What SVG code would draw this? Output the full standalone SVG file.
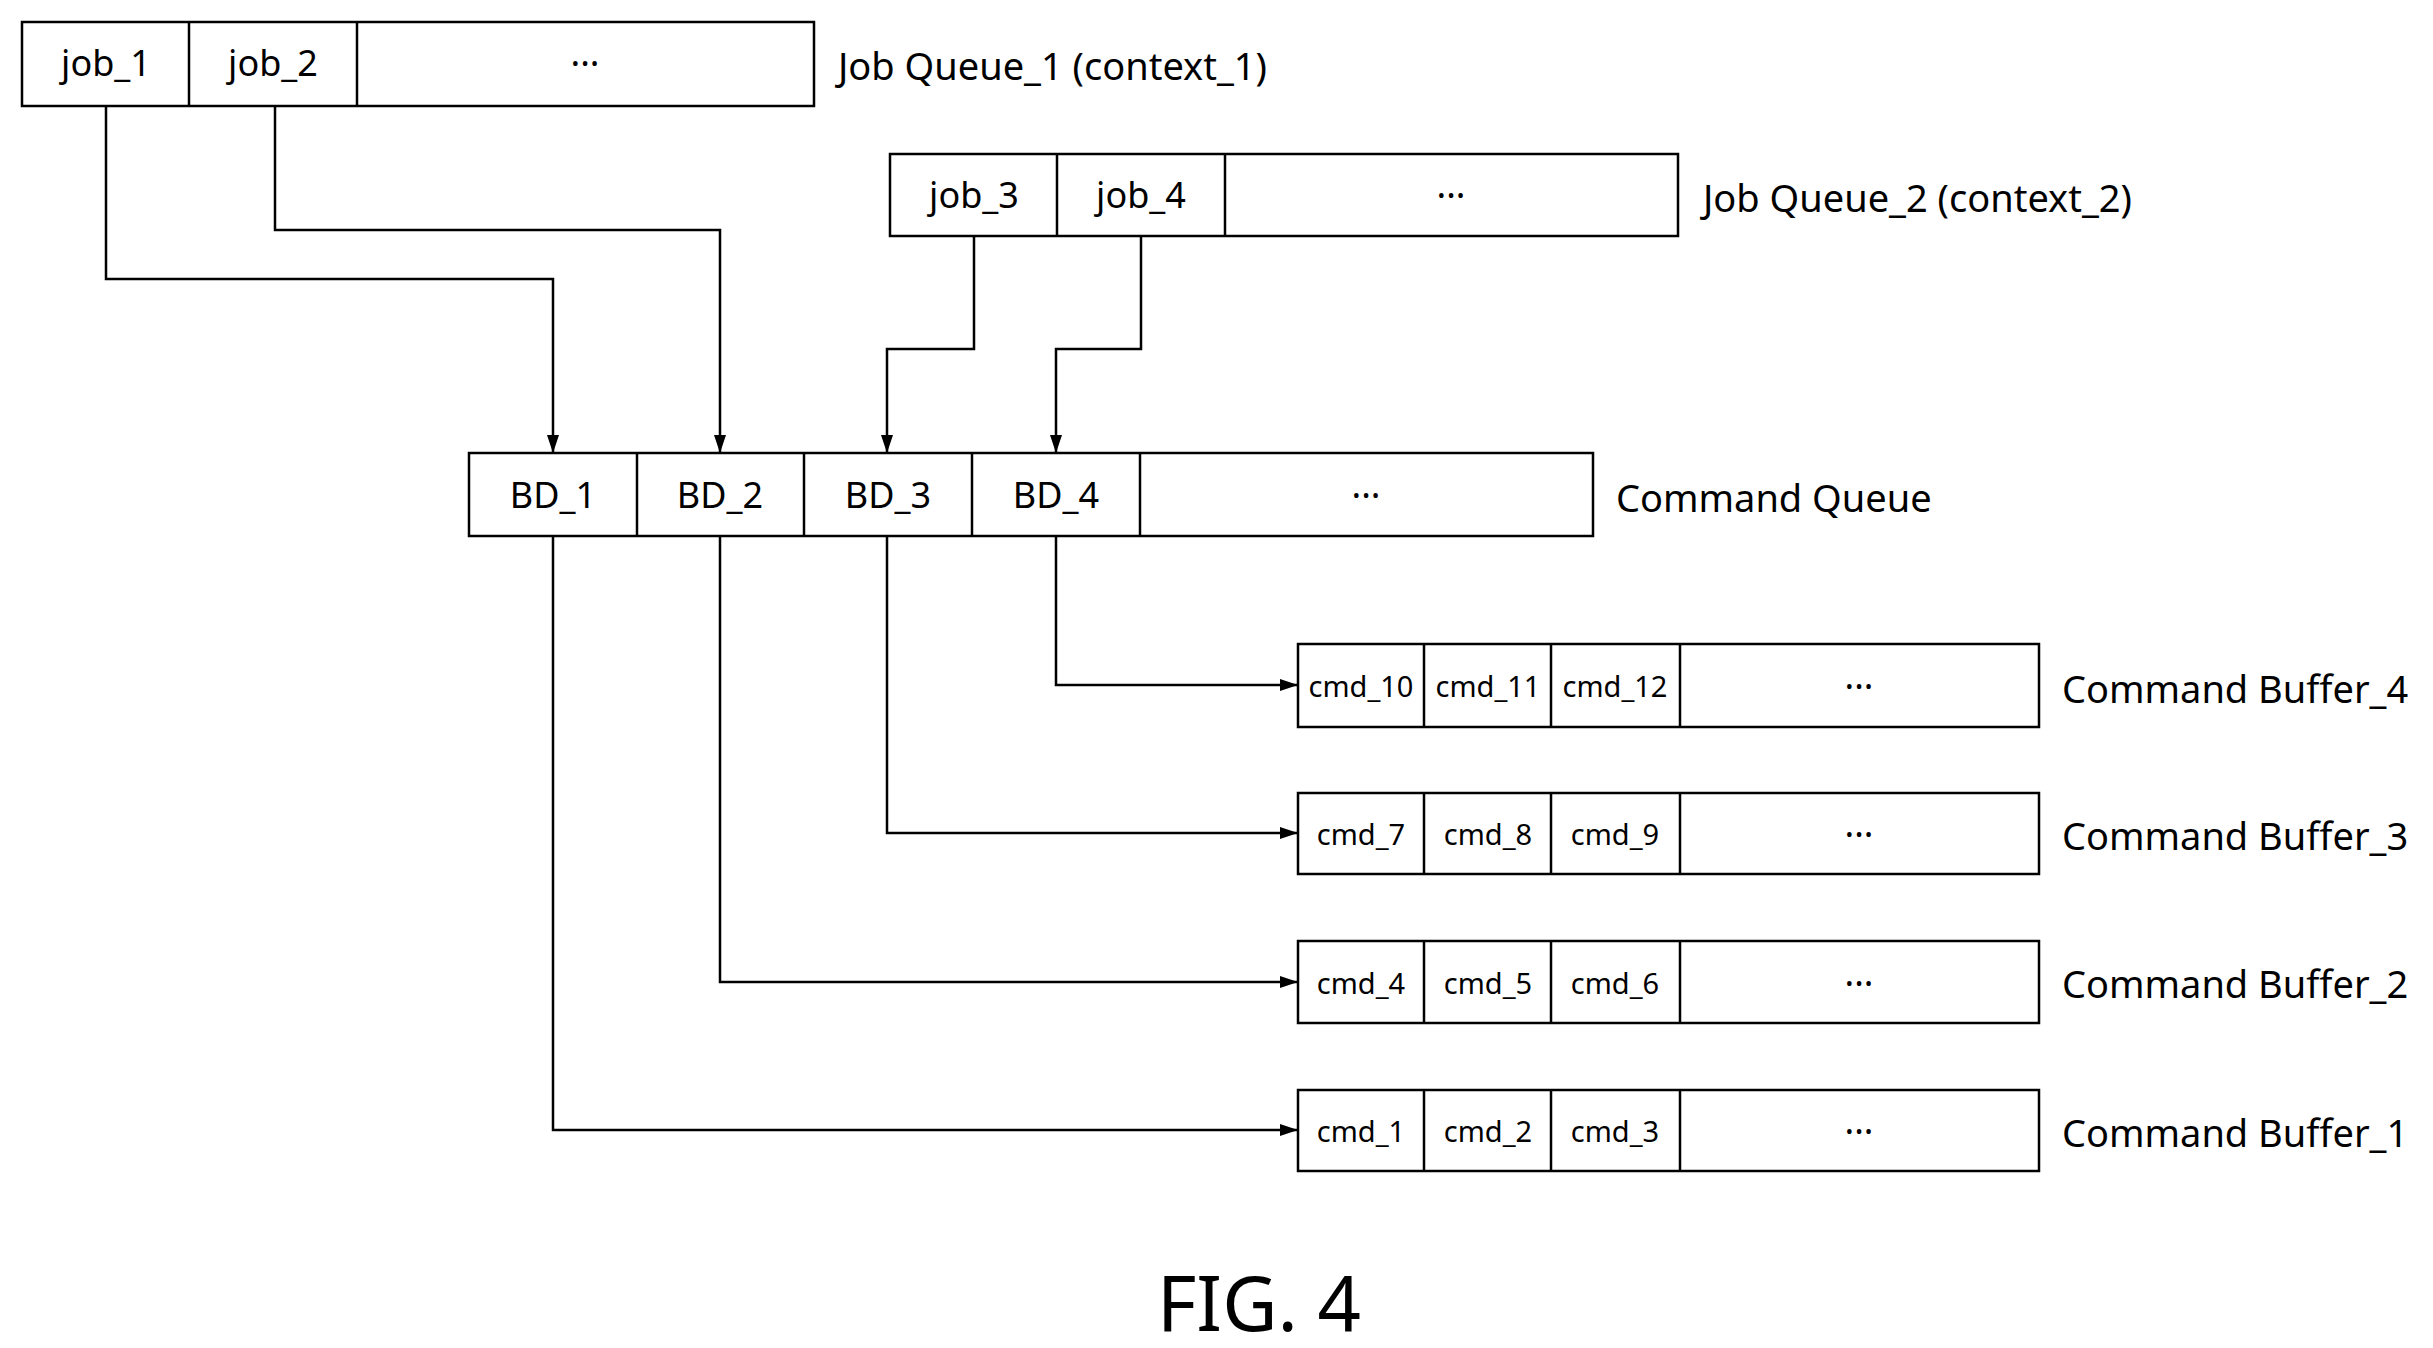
<svg xmlns="http://www.w3.org/2000/svg" width="2433" height="1348" viewBox="0 0 2433 1348">
<style>
rect{fill:#fff;stroke:#000;stroke-width:2.5}
line.d{stroke:#000;stroke-width:2.5}
text{font-family:"Noto Sans","Noto Sans CJK KR",sans-serif;fill:#000;dominant-baseline:central}
.c{text-anchor:middle;font-size:36px}
.s{text-anchor:middle;font-size:29px}
.l{font-size:38px}
.w{fill:none;stroke:#000;stroke-width:2.5}
</style>
<defs><marker id="a" markerWidth="18" markerHeight="12" refX="18" refY="6" orient="auto" markerUnits="userSpaceOnUse"><path d="M0,0L18,6L0,12z" fill="#000"/></marker></defs>
<g id="jq1"><rect x="22" y="22" width="792" height="84"/><line class="d" x1="189" y1="22" x2="189" y2="106"/><line class="d" x1="357" y1="22" x2="357" y2="106"/>
<text class="c" x="106" y="62">job_1</text><text class="c" x="273" y="62">job_2</text><text class="c" x="585" y="62">···</text><text class="l" x="838" y="65">Job Queue_1 (context_1)</text></g>
<g id="jq2"><rect x="890" y="154" width="788" height="82"/><line class="d" x1="1057" y1="154" x2="1057" y2="236"/><line class="d" x1="1225" y1="154" x2="1225" y2="236"/>
<text class="c" x="974" y="194">job_3</text><text class="c" x="1141" y="194">job_4</text><text class="c" x="1451" y="194">···</text><text class="l" x="1703" y="197">Job Queue_2 (context_2)</text></g>
<g id="cq"><rect x="469" y="453" width="1124" height="83"/><line class="d" x1="637" y1="453" x2="637" y2="536"/><line class="d" x1="804" y1="453" x2="804" y2="536"/><line class="d" x1="972" y1="453" x2="972" y2="536"/><line class="d" x1="1140" y1="453" x2="1140" y2="536"/>
<text class="c" x="553" y="494">BD_1</text><text class="c" x="720" y="494">BD_2</text><text class="c" x="888" y="494">BD_3</text><text class="c" x="1056" y="494">BD_4</text><text class="c" x="1366" y="494">···</text><text class="l" x="1616" y="497">Command Queue</text></g>
<g id="cb4"><rect x="1298" y="644" width="741" height="83"/><line class="d" x1="1424" y1="644" x2="1424" y2="727"/><line class="d" x1="1551" y1="644" x2="1551" y2="727"/><line class="d" x1="1680" y1="644" x2="1680" y2="727"/>
<text class="s" x="1361" y="685">cmd_10</text><text class="s" x="1488" y="685">cmd_11</text><text class="s" x="1615" y="685">cmd_12</text><text class="c" x="1859" y="685">···</text><text class="l" x="2062" y="688">Command Buffer_4</text></g>
<g id="cb3"><rect x="1298" y="793" width="741" height="81"/><line class="d" x1="1424" y1="793" x2="1424" y2="874"/><line class="d" x1="1551" y1="793" x2="1551" y2="874"/><line class="d" x1="1680" y1="793" x2="1680" y2="874"/>
<text class="s" x="1361" y="833">cmd_7</text><text class="s" x="1488" y="833">cmd_8</text><text class="s" x="1615" y="833">cmd_9</text><text class="c" x="1859" y="833">···</text><text class="l" x="2062" y="835">Command Buffer_3</text></g>
<g id="cb2"><rect x="1298" y="941" width="741" height="82"/><line class="d" x1="1424" y1="941" x2="1424" y2="1023"/><line class="d" x1="1551" y1="941" x2="1551" y2="1023"/><line class="d" x1="1680" y1="941" x2="1680" y2="1023"/>
<text class="s" x="1361" y="982">cmd_4</text><text class="s" x="1488" y="982">cmd_5</text><text class="s" x="1615" y="982">cmd_6</text><text class="c" x="1859" y="982">···</text><text class="l" x="2062" y="983">Command Buffer_2</text></g>
<g id="cb1"><rect x="1298" y="1090" width="741" height="81"/><line class="d" x1="1424" y1="1090" x2="1424" y2="1171"/><line class="d" x1="1551" y1="1090" x2="1551" y2="1171"/><line class="d" x1="1680" y1="1090" x2="1680" y2="1171"/>
<text class="s" x="1361" y="1130">cmd_1</text><text class="s" x="1488" y="1130">cmd_2</text><text class="s" x="1615" y="1130">cmd_3</text><text class="c" x="1859" y="1130">···</text><text class="l" x="2062" y="1132">Command Buffer_1</text></g>
<g id="connectors">
<path class="w" marker-end="url(#a)" d="M106,106V279H553V453"/>
<path class="w" marker-end="url(#a)" d="M275,106V230H720V453"/>
<path class="w" marker-end="url(#a)" d="M974,236V349H887V453"/>
<path class="w" marker-end="url(#a)" d="M1141,236V349H1056V453"/>
<path class="w" marker-end="url(#a)" d="M1056,536V685H1298"/>
<path class="w" marker-end="url(#a)" d="M887,536V833H1298"/>
<path class="w" marker-end="url(#a)" d="M720,536V982H1298"/>
<path class="w" marker-end="url(#a)" d="M553,536V1130H1298"/>
</g>
<text x="1259" y="1301" style="font-size:76px;text-anchor:middle">FIG. 4</text>
</svg>
